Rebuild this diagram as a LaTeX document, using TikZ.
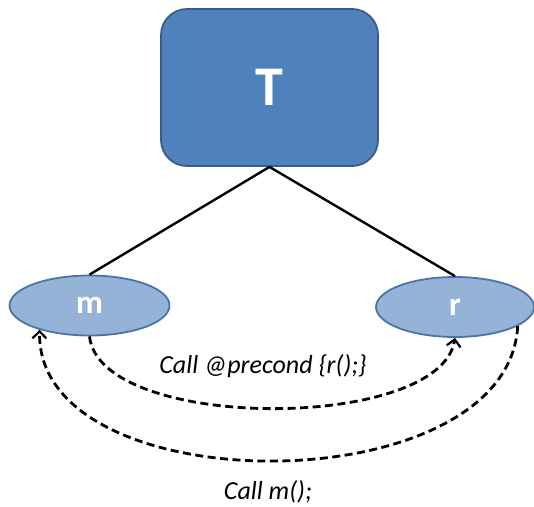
\documentclass[tikz,border=0pt]{standalone}
\usepackage{fontspec}
\setmainfont{Carlito}
\usetikzlibrary{shapes.geometric,arrows.meta}
\definecolor{boxfill}{HTML}{4F81BD}
\definecolor{boxline}{HTML}{385D8A}
\definecolor{ellfill}{HTML}{95B3D7}
\definecolor{ellline}{HTML}{4A74A8}
\tikzset{
  topbox/.style={draw=boxline, fill=boxfill, line width=1.8pt, rounded corners=26pt,
    minimum width=217pt, minimum height=157pt, inner sep=0pt,
    text=white, font=\bfseries\fontsize{56}{60}\selectfont},
  leaf/.style={ellipse, draw=ellline, fill=ellfill, line width=1.8pt,
    minimum width=160pt, minimum height=60pt, inner sep=0pt,
    text=white, font=\bfseries\fontsize{33}{36}\selectfont},
  tree/.style={line width=2.4pt, black},
  call/.style={line width=2.8pt, dash pattern=on 8pt off 4.5pt, black,
    -{Straight Barb[length=7pt,width=14pt,line width=2.2pt]}},
  lbl/.style={font=\itshape\fontsize{26}{30}\selectfont, inner sep=0pt}
}
\begin{document}
\begin{tikzpicture}[x=1pt,y=-1pt]
\useasboundingbox (0,0) rectangle (534,506);
\node[topbox] (T) at (269.5,87.5) {T};
\node[leaf] (m) at (89.5,305.5) {m};
\node[leaf, minimum width=158pt] (r) at (455,307) {r};
\draw[tree] (T.south) -- (m.north);
\draw[tree] (T.south) -- (r.north);
\draw[call] (m.south) .. controls (100,432) and (440,432) .. (r.south);
\draw[call] (r.-17) .. controls (508,505) and (36,505) .. (m.206);
\node[lbl] (c1) at (263,366) {Call @precond \{r();\}};
\node[lbl] (c2) at (268,492) {Call m();};
\end{tikzpicture}
\end{document}
